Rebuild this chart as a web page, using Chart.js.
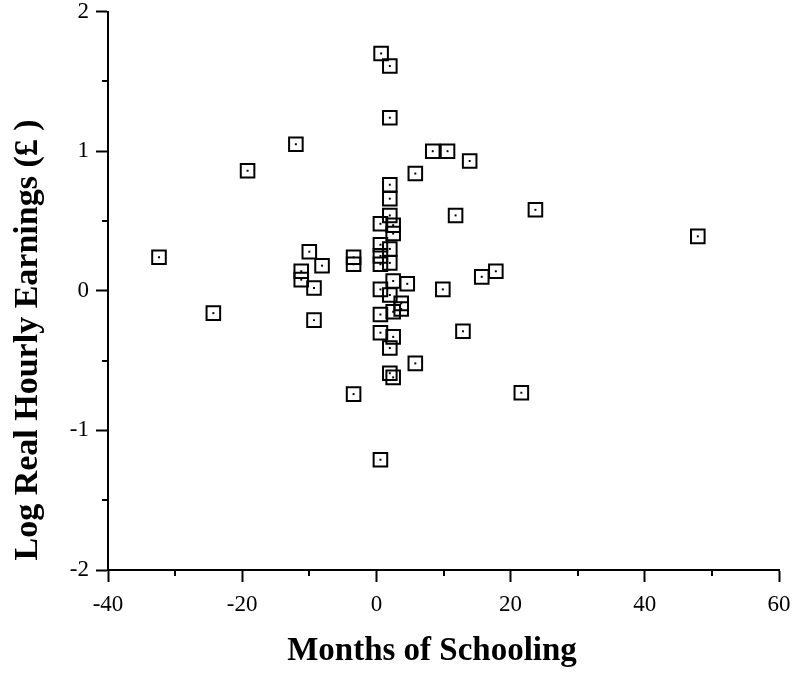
<!DOCTYPE html>
<html>
<head>
<meta charset="utf-8">
<script src="https://cdn.jsdelivr.net/npm/chart.js@4/dist/chart.umd.min.js"></script>
<style>
  html, body { margin: 0; padding: 0; background: #fff; }
  #wrap { width: 795px; height: 674px; }
</style>
</head>
<body>
<div id="wrap"><canvas id="c" width="795" height="674"></canvas></div>
<script>
// Months of schooling (x) and log real hourly earnings (y)
const monthsOfSchooling = [
  -32.4, -24.3, -19.2, -12.0, -10.0, -11.2, -11.2, -8.1, -9.3, -9.3,
  -3.4, -3.4, -3.4,
  0.7, 2.0, 2.0, 0.6,
  8.4, 10.6, 13.9, 11.8, 23.7, 5.8, 47.9,
  17.8, 15.7, 9.9, 12.9, 5.8, 21.6,
  4.6, 3.7, 3.7,
  2.0, 2.0, 2.0, 2.0, 2.0, 2.0, 2.0, 2.0,
  2.5, 2.5, 2.5, 2.5, 2.5, 2.5,
  0.6, 0.6, 0.6, 0.6, 0.6, 0.6, 0.6
];
const logEarnings = [
  0.24, -0.16, 0.86, 1.05, 0.28, 0.14, 0.08, 0.18, 0.02, -0.21,
  0.24, 0.19, -0.74,
  1.70, 1.61, 1.24, -1.21,
  1.00, 1.00, 0.93, 0.54, 0.58, 0.84, 0.39,
  0.14, 0.10, 0.01, -0.29, -0.52, -0.73,
  0.05, -0.09, -0.13,
  0.76, 0.66, 0.54, 0.30, 0.20, -0.03, -0.41, -0.59,
  0.47, 0.41, 0.07, -0.15, -0.33, -0.62,
  0.48, 0.33, 0.25, 0.19, 0.01, -0.17, -0.30
];
const xTickValues = [-40, -20, 0, 20, 40, 60];
const xMinorTicks = [-30, -10, 10, 30, 50];
const yTickValues = [-2, -1, 0, 1, 2];
const yMinorTicks = [-1.5, -0.5, 0.5, 1.5];
const xTitle = 'Months of Schooling';
const yTitle = 'Log Real Hourly Earnings (£ )';

const points = monthsOfSchooling.map((x, i) => ({ x: x, y: logEarnings[i] }));

const decor = {
  id: 'decor',
  afterDraw(chart) {
    const ctx = chart.ctx;
    const xs = chart.scales.x, ys = chart.scales.y;
    const area = chart.chartArea;
    ctx.save();
    ctx.strokeStyle = '#000';
    ctx.lineWidth = 2;
    ctx.beginPath();
    xMinorTicks.forEach(v => {
      const px = Math.round(xs.getPixelForValue(v));
      ctx.moveTo(px, area.bottom);
      ctx.lineTo(px, area.bottom + 6);
    });
    yMinorTicks.forEach(v => {
      const py = Math.round(ys.getPixelForValue(v));
      ctx.moveTo(area.left, py);
      ctx.lineTo(area.left - 6, py);
    });
    ctx.stroke();
    ctx.fillStyle = '#000';
    ctx.textAlign = 'center';
    ctx.textBaseline = 'alphabetic';
    ctx.font = 'bold 33px "Liberation Serif", "Times New Roman", serif';
    ctx.fillText(xTitle, 432, 660);
    ctx.font = 'bold 34px "Liberation Serif", "Times New Roman", serif';
    ctx.translate(37, 340);
    ctx.rotate(-Math.PI / 2);
    ctx.fillText(yTitle, 0, 0);
    ctx.restore();
  }
};

new Chart(document.getElementById('c'), {
  type: 'scatter',
  data: {
    datasets: [
      {
        data: points,
        pointStyle: 'rect',
        pointRadius: 9.6,
        pointHoverRadius: 9.6,
        borderColor: '#000',
        backgroundColor: 'rgba(0,0,0,0)',
        borderWidth: 2,
        clip: false
      },
      {
        data: points,
        pointStyle: 'rect',
        pointRadius: 1.4,
        pointHoverRadius: 1.4,
        borderWidth: 0,
        backgroundColor: '#000',
        borderColor: '#000',
        clip: false
      }
    ]
  },
  options: {
    responsive: false,
    animation: false,
    events: [],
    layout: { padding: { left: 0, right: 16, top: 11, bottom: 0 } },
    plugins: { legend: { display: false }, tooltip: { enabled: false } },
    scales: {
      x: {
        type: 'linear',
        min: -40, max: 60,
        afterFit(s) { s.height = 104; s.paddingLeft = 0; s.paddingRight = 0; },
        afterBuildTicks(s) { s.ticks = xTickValues.map(v => ({ value: v })); },
        ticks: {
          color: '#000',
          font: { family: '"Liberation Serif", "Times New Roman", serif', size: 23 },
          padding: 9,
          maxRotation: 0,
          autoSkip: false
        },
        grid: { display: true, drawOnChartArea: false, drawTicks: true, tickLength: 12, tickWidth: 2, tickColor: '#000' },
        border: { display: true, color: '#000', width: 2 }
      },
      y: {
        type: 'linear',
        min: -2, max: 2,
        afterFit(s) { s.width = 108; s.paddingTop = 0; s.paddingBottom = 0; },
        afterBuildTicks(s) { s.ticks = yTickValues.map(v => ({ value: v })); },
        ticks: {
          color: '#000',
          font: { family: '"Liberation Serif", "Times New Roman", serif', size: 23 },
          padding: 7,
          autoSkip: false
        },
        grid: { display: true, drawOnChartArea: false, drawTicks: true, tickLength: 12, tickWidth: 2, tickColor: '#000' },
        border: { display: true, color: '#000', width: 2 }
      }
    }
  },
  plugins: [decor]
});
</script>
</body>
</html>
